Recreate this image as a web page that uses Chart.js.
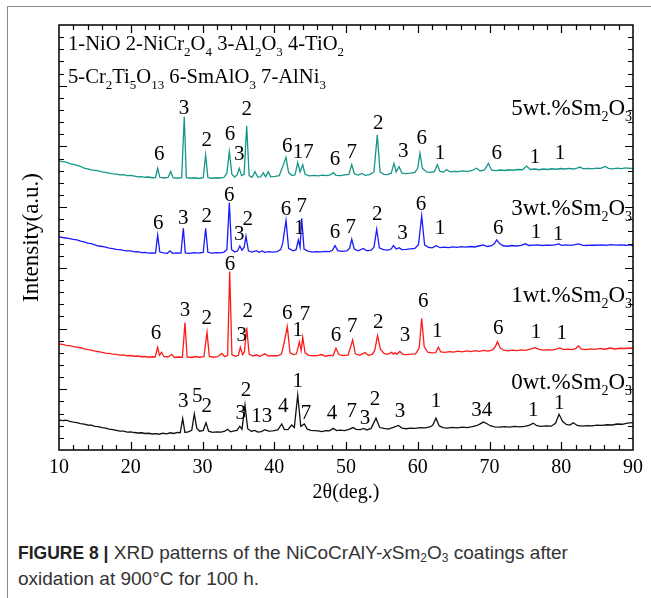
<!DOCTYPE html>
<html>
<head>
<meta charset="utf-8">
<script src="https://cdn.jsdelivr.net/npm/chart.js@4.4.1/dist/chart.umd.min.js"></script>
<style>
  html, body { margin: 0; padding: 0; background: #fff; overflow: hidden; }
  body { width: 651px; height: 598px; position: relative; }
  .frame { position: absolute; left: 7px; top: 6px; width: 700px; height: 700px;
           border-top: 1.5px solid #8a8a8a; border-left: 1.5px solid #8a8a8a; }
  #c { position: absolute; left: 0; top: 0; }
  .cap { position: absolute; left: 18px; top: 540px; margin: 0;
         font-family: "Liberation Sans", Arial, sans-serif; font-size: 19px;
         line-height: 25px; color: #333; }
  .cap b { color: #222; font-size: 17.5px; }
  .cap sub { font-size: 12px; vertical-align: -3px; line-height: 0; }
</style>
</head>
<body>
<div class="frame"></div>
<canvas id="c" width="651" height="520"></canvas>
<p class="cap"><b>FIGURE 8 |</b> XRD patterns of the NiCoCrAlY-<i>x</i>Sm<sub>2</sub>O<sub>3</sub> coatings after<br>oxidation at 900°C for 100 h.</p>
<script>
// 2theta vs intensity (offset units)
const pattern0 = [[10,2.47],[10.5,2.42],[11,2.45],[11.5,2.36],[12,2.30],[12.5,2.26],[13,2.18],[13.5,2.14],[14,2.06],[14.5,2.04],[15,1.95],[15.5,1.92],[16,1.84],[16.5,1.80],[17,1.72],[17.5,1.68],[18,1.62],[18.5,1.55],[19,1.56],[19.5,1.48],[20,1.50],[20.5,1.44],[21,1.40],[21.5,1.42],[22,1.36],[22.5,1.38],[23,1.32],[23.5,1.35],[24,1.30],[24.5,1.38],[25,1.33],[25.5,1.42],[26,1.36],[26.5,1.45],[26.9,1.42],[27.24,2.59],[27.55,1.45],[28,1.50],[28.5,1.62],[28.86,2.97],[29.2,1.80],[29.6,1.55],[30.1,1.62],[30.49,2.25],[30.85,1.55],[31.4,1.45],[32,1.50],[32.6,1.48],[33.1,1.55],[33.5,1.70],[33.9,1.50],[34.4,1.58],[34.8,1.62],[35.2,1.95],[35.5,1.70],[35.92,3.70],[36.3,1.75],[36.8,1.55],[37.3,1.62],[37.7,1.48],[38.2,1.52],[38.7,1.68],[39.2,1.55],[39.8,1.58],[40.5,1.65],[41.04,2.14],[41.4,1.70],[41.9,1.68],[42.43,2.06],[42.8,1.85],[43.27,4.53],[43.7,1.95],[44.19,2.14],[44.6,1.72],[45.1,1.62],[45.6,1.60],[46.1,1.58],[46.6,1.52],[47.2,1.60],[47.7,1.58],[48.23,1.78],[48.7,1.60],[49.2,1.64],[49.8,1.60],[50.4,1.70],[51.0,1.85],[51.4,1.70],[52.0,1.68],[52.5,1.78],[52.9,1.65],[53.5,1.78],[54.18,2.62],[54.7,1.85],[55.3,1.78],[55.9,1.72],[56.5,1.85],[57.3,2.02],[57.8,1.80],[58.4,1.75],[59.0,1.80],[59.6,1.78],[60.3,1.85],[61.0,1.82],[61.7,1.90],[62.1,2.05],[62.54,2.62],[63.0,1.98],[63.5,1.85],[64.1,1.80],[64.8,1.86],[65.5,1.82],[66.2,1.88],[66.9,1.85],[67.6,1.92],[68.2,2.00],[68.7,2.15],[69.14,2.30],[69.6,2.18],[70.1,2.00],[70.7,1.90],[71.4,1.88],[72.1,1.92],[72.8,1.88],[73.5,1.95],[74.2,1.90],[74.9,1.95],[75.6,2.05],[76.1,2.20],[76.6,2.00],[77.2,1.95],[77.9,1.98],[78.6,1.96],[79.2,2.20],[79.69,2.94],[80.2,2.35],[80.7,2.10],[81.2,2.05],[81.7,2.25],[82.2,2.02],[82.9,1.96],[83.6,2.00],[84.3,1.98],[85.0,2.04],[85.7,2.02],[86.4,2.08],[87.1,2.06],[87.8,2.14],[88.5,2.12],[89.2,2.22],[90,2.25]];

const pattern1 = [[10,8.73],[10.5,8.70],[11,8.62],[11.5,8.60],[12,8.52],[12.5,8.47],[13,8.42],[13.5,8.32],[14,8.26],[14.5,8.22],[15,8.14],[15.5,8.10],[16,8.04],[16.5,7.98],[17,7.96],[17.5,7.90],[18,7.88],[18.5,7.82],[19,7.84],[19.5,7.76],[20,7.78],[20.5,7.72],[21,7.74],[21.5,7.68],[22,7.70],[22.5,7.64],[23,7.68],[23.4,7.66],[23.75,8.46],[24.0,7.80],[24.3,8.05],[24.6,7.70],[25.2,7.66],[25.7,7.88],[26.1,7.62],[26.6,7.66],[27.2,7.64],[27.56,10.50],[27.85,7.66],[28.4,7.62],[29.0,7.70],[29.5,7.64],[30.2,7.68],[30.63,9.70],[30.95,7.70],[31.5,7.64],[32.1,7.68],[32.7,7.95],[33.1,7.68],[33.5,7.80],[33.79,14.69],[34.1,7.85],[34.6,7.72],[35.0,7.80],[35.27,8.46],[35.6,7.85],[35.85,8.10],[36.16,10.08],[36.5,7.90],[37.0,7.74],[37.5,7.84],[38.0,7.72],[38.7,7.92],[39.2,7.74],[39.8,7.78],[40.4,7.76],[41.0,7.90],[41.36,8.79],[41.82,10.16],[42.2,8.00],[42.7,7.86],[43.1,7.92],[43.5,8.92],[43.75,8.20],[43.97,9.28],[44.3,8.00],[44.8,7.80],[45.4,7.76],[46.0,7.78],[46.6,7.86],[47.1,7.72],[47.7,7.80],[48.2,7.78],[48.6,8.38],[49.0,7.86],[49.6,7.78],[50.3,7.82],[50.93,9.06],[51.3,7.92],[51.9,7.80],[52.65,8.02],[53.1,7.80],[53.7,7.90],[54.0,8.20],[54.4,9.42],[54.8,8.30],[55.3,7.96],[55.8,7.88],[56.36,8.05],[56.6,7.90],[56.83,8.00],[57.1,7.90],[57.5,8.12],[57.9,7.88],[58.5,7.86],[59.1,7.90],[59.7,7.92],[60.2,8.40],[60.55,10.85],[60.9,8.50],[61.4,8.05],[62.0,8.00],[62.5,8.02],[62.87,8.46],[63.2,8.08],[63.8,8.04],[64.4,8.10],[65.0,8.06],[65.6,8.14],[66.2,8.08],[66.8,8.16],[67.4,8.10],[68.0,8.18],[68.6,8.12],[69.2,8.20],[69.8,8.14],[70.4,8.24],[70.8,8.50],[71.1,8.92],[71.5,8.40],[72.0,8.22],[72.6,8.16],[73.2,8.22],[73.8,8.18],[74.4,8.24],[75.0,8.20],[75.7,8.30],[76.34,8.43],[76.9,8.28],[77.5,8.22],[78.1,8.26],[78.7,8.22],[79.3,8.30],[79.83,8.40],[80.3,8.26],[80.9,8.30],[81.5,8.26],[82.0,8.34],[82.4,8.57],[82.8,8.30],[83.4,8.26],[84.0,8.32],[84.7,8.28],[85.4,8.36],[86.1,8.30],[86.8,8.40],[87.5,8.32],[88.2,8.38],[88.9,8.36],[89.5,8.40],[90,8.38]];

const pattern3 = [[10,17.55],[10.5,17.50],[11,17.46],[11.5,17.40],[12,17.34],[12.5,17.30],[13,17.20],[13.5,17.14],[14,17.04],[14.5,17.00],[15,16.90],[15.5,16.80],[16,16.76],[16.5,16.70],[17,16.62],[17.5,16.58],[18,16.52],[18.5,16.50],[19,16.44],[19.5,16.40],[20,16.40],[20.5,16.32],[21,16.34],[21.5,16.26],[22,16.28],[22.5,16.22],[23,16.24],[23.45,16.22],[23.75,17.70],[24.05,16.30],[24.6,16.24],[25.1,16.20],[25.47,16.40],[25.8,16.20],[26.4,16.24],[27.0,16.22],[27.33,18.26],[27.6,16.24],[28.2,16.20],[28.8,16.26],[29.4,16.22],[30.1,16.28],[30.44,18.26],[30.75,16.28],[31.3,16.22],[31.9,16.26],[32.5,16.24],[33.0,16.30],[33.4,16.50],[33.74,20.37],[34.05,16.50],[34.5,16.30],[34.9,16.40],[35.2,16.80],[35.5,16.45],[35.8,16.70],[36.06,17.60],[36.4,16.40],[36.9,16.30],[37.5,16.42],[37.9,16.28],[38.3,16.40],[38.7,16.28],[39.2,16.34],[39.8,16.30],[40.4,16.34],[40.9,16.50],[41.18,17.03],[41.64,18.90],[42.0,16.60],[42.6,16.40],[43.05,16.50],[43.36,17.30],[43.6,16.70],[43.83,19.08],[44.15,16.55],[44.7,16.38],[45.3,16.30],[45.9,16.34],[46.5,16.32],[47.1,16.36],[47.7,16.34],[48.1,16.45],[48.47,16.83],[48.85,16.42],[49.5,16.36],[50.1,16.40],[50.5,16.60],[50.8,17.35],[51.15,16.55],[51.7,16.40],[52.4,16.60],[52.9,16.40],[53.5,16.46],[53.9,16.70],[54.28,18.18],[54.65,16.65],[55.2,16.50],[55.8,16.46],[56.3,16.55],[56.6,16.83],[57.0,16.55],[57.4,16.65],[57.8,16.50],[58.4,16.52],[59.0,16.56],[59.6,16.60],[60.1,16.90],[60.55,19.27],[60.95,16.90],[61.5,16.68],[62.0,16.64],[62.6,16.83],[63.1,16.66],[63.7,16.70],[64.3,16.66],[64.9,16.72],[65.5,16.68],[66.1,16.74],[66.7,16.70],[67.3,16.76],[67.9,16.72],[68.5,16.80],[69.14,16.89],[69.7,16.76],[70.3,16.82],[70.7,17.00],[71.0,17.30],[71.4,17.00],[71.9,16.82],[72.5,16.78],[73.1,16.84],[73.7,16.80],[74.4,16.86],[75.0,16.98],[75.5,16.84],[76.1,16.88],[76.7,16.90],[77.3,16.84],[77.9,16.88],[78.5,16.86],[79.1,16.90],[79.6,16.98],[80.1,16.86],[80.7,16.90],[81.3,16.86],[81.9,16.92],[82.4,16.98],[82.9,16.88],[83.5,16.84],[84.1,16.88],[84.8,16.86],[85.5,16.90],[86.2,16.86],[86.9,16.92],[87.6,16.88],[88.3,16.90],[89.0,16.86],[89.6,16.90],[90,16.83]];

const pattern5 = [[10,23.81],[10.5,23.74],[11,23.70],[11.5,23.58],[12,23.52],[12.5,23.44],[13,23.36],[13.5,23.22],[14,23.16],[14.5,23.06],[15,23.02],[15.5,22.98],[16,22.90],[16.5,22.86],[17,22.80],[17.5,22.74],[18,22.72],[18.5,22.66],[19,22.68],[19.5,22.60],[20,22.62],[20.5,22.56],[21,22.50],[21.5,22.52],[22,22.46],[22.5,22.48],[23,22.42],[23.45,22.44],[23.75,23.20],[24.05,22.46],[24.6,22.40],[25.2,22.44],[25.57,22.93],[25.9,22.42],[26.5,22.38],[27.1,22.42],[27.46,27.45],[27.75,22.42],[28.3,22.38],[28.9,22.42],[29.5,22.36],[30.1,22.42],[30.44,24.30],[30.75,22.44],[31.3,22.38],[31.9,22.42],[32.5,22.40],[33.0,22.46],[33.4,22.80],[33.74,24.57],[34.1,22.70],[34.5,22.48],[34.85,22.70],[35.13,23.20],[35.45,22.60],[35.8,22.70],[36.16,26.69],[36.5,22.60],[36.9,22.46],[37.32,22.92],[37.7,22.48],[38.1,22.50],[38.47,22.84],[38.8,22.50],[39.17,22.92],[39.5,22.50],[40.1,22.54],[40.7,22.60],[41.26,23.48],[41.64,24.10],[42.0,22.85],[42.5,22.60],[42.9,22.66],[43.27,23.67],[43.6,22.90],[43.97,23.50],[44.3,22.70],[44.9,22.58],[45.5,22.62],[46.1,22.58],[46.7,22.64],[47.3,22.60],[47.8,22.66],[48.23,22.84],[48.6,22.62],[49.2,22.60],[49.8,22.66],[50.4,22.70],[50.8,23.50],[51.15,22.75],[51.7,22.64],[52.2,22.78],[52.7,22.62],[53.3,22.68],[53.9,22.90],[54.36,25.95],[54.75,22.90],[55.3,22.70],[55.8,22.68],[56.3,22.80],[56.69,23.60],[57.0,22.90],[57.4,23.33],[57.8,22.80],[58.4,22.76],[59.0,22.80],[59.6,22.86],[60.0,23.20],[60.3,24.44],[60.65,23.20],[61.2,22.90],[61.8,22.86],[62.3,22.92],[62.73,23.50],[63.1,22.94],[63.6,22.88],[64.03,23.10],[64.5,22.90],[65.1,22.94],[65.7,22.92],[66.3,22.98],[66.9,22.94],[67.5,23.00],[68.2,23.20],[68.7,22.98],[69.3,23.06],[69.84,23.60],[70.3,23.04],[70.9,23.00],[71.5,23.06],[72.1,23.02],[72.7,23.08],[73.3,23.04],[73.9,23.10],[74.6,23.08],[75.17,23.38],[75.7,23.10],[76.3,23.14],[76.9,23.08],[77.5,23.14],[78.1,23.10],[78.7,23.16],[79.3,23.12],[79.9,23.18],[80.5,23.14],[81.1,23.20],[81.7,23.14],[82.2,23.22],[82.6,23.30],[83.1,23.16],[83.7,23.20],[84.3,23.16],[84.9,23.22],[85.5,23.20],[86.1,23.35],[86.6,23.20],[87.2,23.16],[87.8,23.22],[88.4,23.18],[89.0,23.24],[89.6,23.20],[90,23.20]];

// phase numbers over the peaks: [2theta, level, phase]
const marks0 = [[27.32,3.98,'3'],[29.28,4.39,'5'],[30.59,3.57,'2'],[35.32,3.02,'3'],[36.06,4.94,'2'],[38.25,2.74,'13'],[41.26,3.57,'4'],[43.27,5.63,'1'],[44.43,3.02,'7'],[48.05,2.97,'4'],[50.79,3.15,'7'],[52.65,2.61,'3'],[54.04,4.12,'2'],[57.53,3.15,'3'],[62.54,3.98,'1'],[68.91,3.29,'34'],[76.11,3.29,'1'],[79.73,3.85,'1']];
const marks1 = [[23.52,9.61,'6'],[27.56,11.53,'3'],[30.59,10.85,'2'],[33.83,15.24,'6'],[35.46,9.39,'3'],[36.3,11.39,'2'],[41.82,11.26,'6'],[43.27,9.88,'1'],[44.29,11.12,'7'],[48.61,9.39,'6'],[50.88,10.21,'7'],[54.5,10.49,'2'],[58.22,9.39,'3'],[60.77,12.22,'6'],[62.72,9.74,'1'],[71.23,10.02,'6'],[76.48,9.66,'1'],[80.06,9.56,'1']];
const marks3 = [[23.84,18.67,'6'],[27.32,19.09,'3'],[30.59,19.22,'2'],[33.74,21.0,'6'],[35.13,17.71,'3'],[36.3,19.0,'2'],[41.64,19.77,'6'],[43.83,20.04,'7'],[43.49,18.26,'1'],[48.47,17.9,'6'],[50.66,18.34,'7'],[54.36,19.36,'2'],[57.89,17.85,'3'],[60.45,20.26,'6'],[63.1,18.26,'1'],[71.23,18.26,'6'],[76.48,17.9,'1'],[79.59,17.77,'1']];
const marks5 = [[23.98,24.30,'6'],[27.42,28.09,'3'],[30.59,25.48,'2'],[33.83,25.95,'6'],[35.13,24.30,'3'],[36.16,28.01,'2'],[41.82,24.98,'6'],[44.05,24.49,'17'],[48.47,23.95,'6'],[50.79,24.49,'7'],[54.5,26.91,'2'],[57.99,24.57,'3'],[60.55,25.68,'6'],[63.1,24.44,'1'],[71.0,24.44,'6'],[76.34,24.11,'1'],[79.83,24.44,'1']];

const sampleNames = ['0wt.%Sm_2O_3', '1wt.%Sm_2O_3', '3wt.%Sm_2O_3', '5wt.%Sm_2O_3'];
const sampleLevels = [5.02, 12.19, 19.36, 27.6];
const phaseKey = ['1-NiO 2-NiCr_2O_4 3-Al_2O_3 4-TiO_2', '5-Cr_2Ti_5O_13 6-SmAlO_3 7-AlNi_3'];

const SERIF = '"Liberation Serif", "Times New Roman", serif';

// text with _digits as subscripts
function richText(ctx, str, x, y, size, align) {
  const parts = str.split(/_(\d+)/);
  const sub = Math.round(size * 0.62);
  let w = 0;
  parts.forEach((p, i) => {
    ctx.font = (i % 2 ? sub : size) + 'px ' + SERIF;
    w += ctx.measureText(p).width;
  });
  let cx = align === 'right' ? x - w : x;
  ctx.textAlign = 'left';
  ctx.textBaseline = 'alphabetic';
  parts.forEach((p, i) => {
    const isSub = i % 2 === 1;
    ctx.font = (isSub ? sub : size) + 'px ' + SERIF;
    ctx.fillText(p, cx, isSub ? y + size * 0.28 : y);
    cx += ctx.measureText(p).width;
  });
}

const boxAndText = {
  id: 'boxAndText',
  afterDatasetsDraw(chart) {
    const { ctx, chartArea: a, scales: { x, y } } = chart;
    ctx.save();
    ctx.strokeStyle = '#000';
    ctx.lineWidth = 1.5;
    ctx.strokeRect(a.left, a.top, a.right - a.left, a.bottom - a.top);

    // inward ticks on all four sides
    ctx.lineWidth = 1.2;
    ctx.beginPath();
    for (let v = 12; v < 90; v += 2) {
      const px = Math.round(x.getPixelForValue(v)) + 0.5;
      const len = v % 10 === 0 ? 8 : 5;
      ctx.moveTo(px, a.bottom); ctx.lineTo(px, a.bottom - len);
      ctx.moveTo(px, a.top); ctx.lineTo(px, a.top + len);
    }
    for (let v = 1; v < 35; v++) {
      const py = Math.round(y.getPixelForValue(v)) + 0.5;
      const len = v % 5 === 0 ? 8 : 5;
      ctx.moveTo(a.left, py); ctx.lineTo(a.left + len, py);
      ctx.moveTo(a.right, py); ctx.lineTo(a.right - len, py);
    }
    ctx.stroke();

    ctx.fillStyle = '#000';
    // peak markers
    ctx.font = '21px ' + SERIF;
    ctx.textAlign = 'center';
    ctx.textBaseline = 'middle';
    [marks0, marks1, marks3, marks5].forEach(list => {
      list.forEach(([t, lv, s]) => {
        ctx.fillText(s, x.getPixelForValue(t), y.getPixelForValue(lv));
      });
    });

    // sample names, right aligned on the frame
    sampleNames.forEach((n, i) => {
      richText(ctx, n, a.right - 1, y.getPixelForValue(sampleLevels[i]), 23, 'right');
    });

    // phase key
    phaseKey.forEach((line, i) => {
      richText(ctx, line, a.left + 9, a.top + 25 + i * 33, 20.6, 'left');
    });
    ctx.restore();
  }
};

const toXY = arr => arr.map(([a, b]) => ({ x: a, y: b }));
const lineSet = (data, color) => ({
  data: toXY(data), borderColor: color, borderWidth: 1.3,
  pointRadius: 0, tension: 0, fill: false
});

new Chart(document.getElementById('c'), {
  type: 'line',
  data: {
    datasets: [
      lineSet(pattern0, '#111111'),
      lineSet(pattern1, '#ff1a1a'),
      lineSet(pattern3, '#1a1aff'),
      lineSet(pattern5, '#14968a')
    ]
  },
  options: {
    responsive: false,
    animation: false,
    events: [],
    layout: { padding: { top: 25, right: 18, bottom: 15, left: 0 } },
    plugins: { legend: { display: false }, tooltip: { enabled: false } },
    scales: {
      x: {
        type: 'linear', min: 10, max: 90,
        border: { display: false },
        grid: { display: false, drawTicks: false },
        ticks: { stepSize: 10, padding: 6, color: '#000', font: { family: SERIF, size: 20 } },
        title: { display: true, text: '2θ(deg.)', color: '#000',
                 font: { family: SERIF, size: 20 }, padding: { top: 0, bottom: 0 } },
        afterFit(s) { s.height = 55; }
      },
      y: {
        min: 0, max: 35,
        border: { display: false },
        grid: { display: false, drawTicks: false },
        ticks: { display: false },
        title: { display: true, text: 'Intensity(a.u.)', color: '#000',
                 font: { family: SERIF, size: 23 }, padding: { top: 18, bottom: 0 } },
        afterFit(s) { s.width = 59; }
      }
    }
  },
  plugins: [boxAndText]
});
</script>
</body>
</html>
